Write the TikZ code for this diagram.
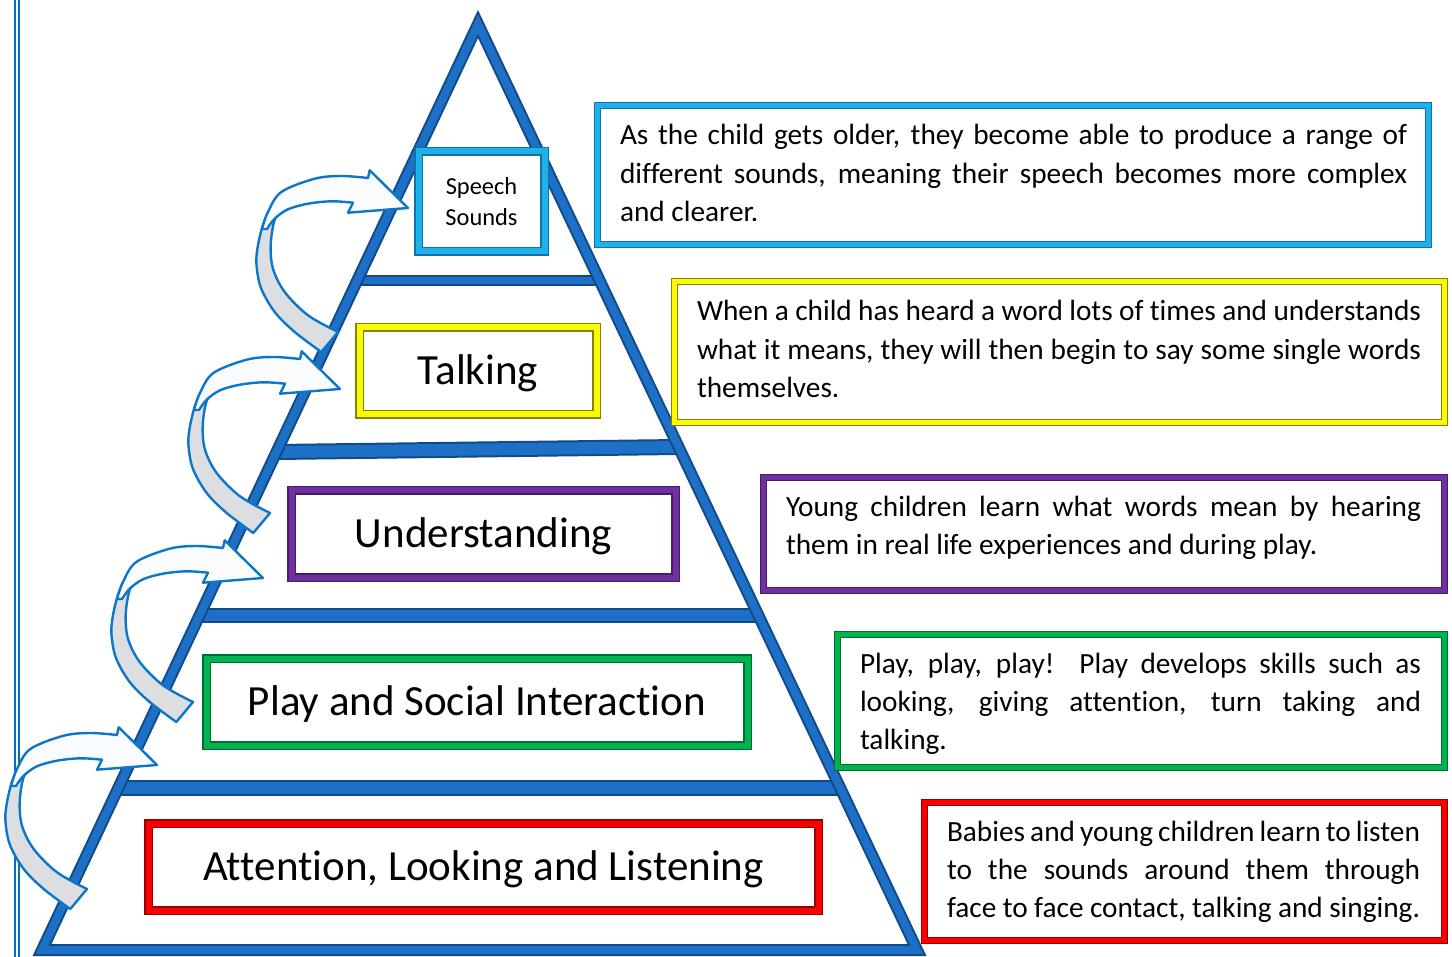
\documentclass[tikz,border=0pt]{standalone}
\usepackage{fontspec}
\setmainfont{Carlito}[Ligatures=NoCommon]
\usetikzlibrary{calc}

% pyramid frame
\definecolor{pyrdark}{RGB}{16,74,136}
\definecolor{pyrmid}{RGB}{30,112,198}
% curved arrows
\definecolor{arrowblue}{RGB}{14,118,200}
\definecolor{arrowgray}{RGB}{220,222,226}
\definecolor{arrowwhite}{RGB}{250,251,252}
% page rule
\definecolor{rulecol}{RGB}{0,112,192}
% box colours: main and shade
\definecolor{cyanmain}{RGB}{30,178,234}
\definecolor{cyandark}{RGB}{18,112,170}
\definecolor{yelmain}{RGB}{250,250,0}
\definecolor{yeldark}{RGB}{130,130,10}
\definecolor{purmain}{RGB}{112,48,160}
\definecolor{purdark}{RGB}{70,28,105}
\definecolor{grnmain}{RGB}{0,178,80}
\definecolor{grndark}{RGB}{0,110,50}
\definecolor{redmain}{RGB}{250,0,0}
\definecolor{reddark}{RGB}{150,0,0}

% paragraph settings for the description texts
\newcommand\descfont{\fontsize{29.3}{38.3}\selectfont\spaceskip=.226em plus .6em minus .12em\relax}

\begin{document}
\begin{tikzpicture}[x=1pt,y=-1pt,
  pagerule/.style={rulecol, line width=2.2pt},
  frame/.style={draw=pyrdark, double=pyrmid, line width=2pt, double distance=#1, line join=miter},
  tierbox/.style n args={2}{draw=#2, double=#1, line width=1.5pt, double distance=6pt,
    fill=white, outer sep=0pt, inner sep=0pt, text=black},
  desc/.style n args={2}{draw=#2, double=#1, line width=1.2pt, double distance=4.6pt,
    fill=white, outer sep=0pt, inner sep=0pt},
  desctext/.style={anchor=base west, inner sep=0pt, outer sep=0pt, text=black},
  biglabel/.style={font=\fontsize{43}{50}\selectfont, text height=27.7pt, text depth=0pt},
  arrowline/.style={draw=arrowblue, line width=2.4pt, line join=round},
  bentarrow/.pic={
    % back face of the band, running down to the tail
    \filldraw[arrowline, fill=arrowgray]
      plot[smooth, tension=0.55] coordinates {(-140,4) (-146,20) (-150.5,40) (-151.5,57) (-147,80) (-133.3,104) (-113.3,124) (-86.7,144)}
      -- (-70,124)
      -- plot[smooth, tension=0.55] coordinates {(-70,124) (-100,107.3) (-123.3,84) (-135,60.7) (-137.3,37.3) (-134,14) (-128,2)}
      -- cycle;
    % front face of the band with the head
    \filldraw[arrowline, fill=arrowwhite]
      plot[smooth, tension=0.55] coordinates {(-146,21) (-140,4) (-126.7,-16) (-93.3,-29.3) (-66.7,-32) (-40,-30)}
      -- (-38.3,-37.7) -- (0,0) -- (-60,4.7) -- (-55,-5.3)
      -- plot[smooth, tension=0.55] coordinates {(-55,-5.3) (-76.7,-6.7) (-100,-4.3) (-120,1.3) (-133.3,10.7) (-141,21)}
      -- cycle;
  }
]
\useasboundingbox (0,0) rectangle (1452,957);

% double rule down the left margin
\draw[pagerule] (15,0) -- (15,957);
\draw[pagerule] (19,0) -- (19,957);

% pyramid: corners on the centre line of the frame
\coordinate (apex) at (478,24);
\coordinate (bl) at (42,950);
\coordinate (br) at (917,950);

% tier dividers
\draw[frame=7pt]  ($(apex)!0.2765!(bl)$) -- ($(apex)!0.2765!(br)$);
\draw[frame=12pt] ($(apex)!0.4622!(bl)$) -- ($(apex)!0.4568!(br)$);
\draw[frame=11pt] ($(apex)!0.6393!(bl)$) -- ($(apex)!0.6393!(br)$);
\draw[frame=12pt] ($(apex)!0.8251!(bl)$) -- ($(apex)!0.8251!(br)$);
% outline
\draw[frame=8pt] (bl) -- (apex) -- (br) -- cycle;

% tier labels
\node[tierbox={cyanmain}{cyandark}, minimum width=126pt, minimum height=100pt,
      align=center, font=\fontsize{24.4}{31}\selectfont] (speech) at (481.5,201.5) {Speech\\Sounds};
\node[tierbox={yelmain}{yeldark}, minimum width=237pt, minimum height=87pt, biglabel] (talking) at (478,371) {Talking};
\node[tierbox={purmain}{purdark}, minimum width=384pt, minimum height=87pt, biglabel] (underst) at (483.5,534) {Understanding};
\node[tierbox={grnmain}{grndark}, minimum width=541pt, minimum height=87pt, biglabel] (play) at (477,702) {Play and Social Interaction};
\node[tierbox={redmain}{reddark}, minimum width=670pt, minimum height=87pt, biglabel] (attend) at (483.5,867) {Attention, Looking and Listening};

% curved arrows climbing from tier to tier
\coordinate (tipA) at (157,765);
\coordinate (tipB) at (263,578);
\coordinate (tipC) at (340,389);
\coordinate (tipD) at (408,208);
\pic at (tipA) {bentarrow};
\pic at (tipB) {bentarrow};
\pic at (tipC) {bentarrow};
\pic at (tipD) {bentarrow};

% description boxes
\node[desc={cyanmain}{cyandark}, minimum width=831pt, minimum height=139pt] (dspeech) at (1013,175) {};
\node[desc={yelmain}{yeldark}, minimum width=770pt, minimum height=141pt] (dtalk) at (1059.5,352) {};
\node[desc={purmain}{purdark}, minimum width=681pt, minimum height=113pt] (dunder) at (1104,534) {};
\node[desc={grnmain}{grndark}, minimum width=607pt, minimum height=133pt] (dplay) at (1141,701) {};
\node[desc={redmain}{reddark}, minimum width=520pt, minimum height=138pt] (dattend) at (1184.5,871.5) {};

\node[desctext] (tspeech) at (620,145) {\begin{minipage}[t]{787pt}\descfont
As the child gets older, they become able to produce a range of\linebreak
different sounds, meaning their speech becomes more complex\linebreak
and clearer.\end{minipage}};
\node[desctext] (ttalk) at (697,321) {\begin{minipage}[t]{724pt}\descfont
When a child has heard a word lots of times and understands\linebreak
what it means, they will then begin to say some single words\linebreak
themselves.\end{minipage}};
\node[desctext] (tunder) at (786,516) {\begin{minipage}[t]{635pt}\descfont
Young children learn what words mean by hearing\linebreak
them in real life experiences and during play.\end{minipage}};
\node[desctext] (tplay) at (860,673) {\begin{minipage}[t]{561pt}\descfont
Play, play, play!\ \ Play develops skills such as\linebreak
looking, giving attention, turn taking and\linebreak
talking.\end{minipage}};
\node[desctext] (tattend) at (947,841) {\begin{minipage}[t]{473pt}\descfont
Babies and young children learn to listen\linebreak
to the sounds around them through\linebreak
face to face contact, talking and singing.\end{minipage}};
\end{tikzpicture}
\end{document}
